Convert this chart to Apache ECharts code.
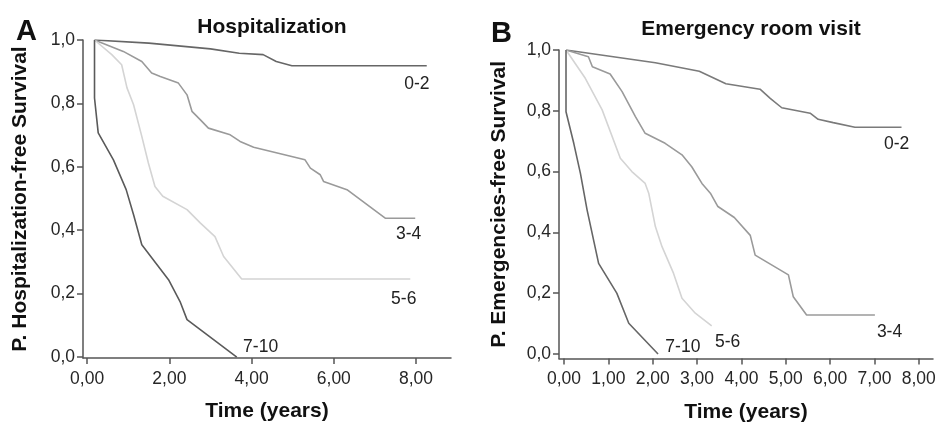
<!DOCTYPE html>
<html>
<head>
<meta charset="utf-8">
<script src="https://cdn.jsdelivr.net/npm/echarts@6/dist/echarts.min.js"></script>
<style>
  html, body { margin: 0; padding: 0; background: #fff; }
  #chart { width: 938px; height: 423px; }
</style>
</head>
<body>
<div id="chart"></div>
<script>
// tick labels
const yTicks = [0, 0.2, 0.4, 0.6, 0.8, 1.0]
const xTicksA = [0, 2, 4, 6, 8]
const xTicksB = [0, 1, 2, 3, 4, 5, 6, 7, 8]
const groups = ['0-2', '3-4', '5-6', '7-10']

// A - hospitalization, [time, survival]
const hosp02 = [[0.18, 1.0], [1.5, 0.99], [3.0, 0.972], [3.7, 0.958], [4.28, 0.954], [4.6, 0.932], [4.98, 0.919], [8.26, 0.919]]
const hosp34 = [[0.18, 1.0], [0.88, 0.964], [1.33, 0.932], [1.57, 0.896], [1.78, 0.885], [2.22, 0.864], [2.43, 0.827], [2.55, 0.775],
  [2.75, 0.749], [2.95, 0.722], [3.48, 0.701], [3.72, 0.68], [4.05, 0.662], [5.3, 0.622], [5.43, 0.596], [5.67, 0.575],
  [5.75, 0.554], [6.32, 0.528], [7.25, 0.438], [7.98, 0.438]]
const hosp56 = [[0.18, 1.0], [0.6, 0.954], [0.84, 0.922], [0.97, 0.849], [1.13, 0.796], [1.33, 0.696], [1.49, 0.612], [1.65, 0.538],
  [1.84, 0.507], [2.43, 0.465], [2.75, 0.423], [3.11, 0.38], [3.32, 0.317], [3.76, 0.246], [7.86, 0.246]]
const hosp710 = [[0.18, 1.0], [0.18, 0.817], [0.27, 0.707], [0.64, 0.622], [0.95, 0.528], [1.13, 0.449], [1.33, 0.354],
  [1.98, 0.244], [2.26, 0.175], [2.43, 0.118], [3.64, 0.0]]

// B - emergency room visit
const er02 = [[0.045, 1.0], [2.06, 0.958], [3.05, 0.93], [3.65, 0.889], [4.42, 0.871], [4.65, 0.841], [4.91, 0.81], [5.55, 0.792],
  [5.73, 0.772], [6.07, 0.761], [6.56, 0.746], [7.61, 0.746]]
const er34 = [[0.045, 1.0], [0.55, 0.978], [0.64, 0.945], [1.04, 0.921], [1.31, 0.863], [1.61, 0.781], [1.83, 0.726], [2.28, 0.693],
  [2.66, 0.655], [2.88, 0.616], [3.11, 0.561], [3.3, 0.529], [3.47, 0.485], [3.84, 0.449], [4.2, 0.39], [4.31, 0.325],
  [5.06, 0.26], [5.17, 0.188], [5.47, 0.128], [7.01, 0.128]]
const er56 = [[0.045, 1.0], [0.48, 0.907], [0.86, 0.803], [1.27, 0.644], [1.53, 0.6], [1.83, 0.561], [1.91, 0.529], [2.06, 0.419],
  [2.21, 0.353], [2.47, 0.265], [2.66, 0.183], [2.96, 0.134], [3.33, 0.092]]
const er710 = [[0.045, 1.0], [0.045, 0.797], [0.22, 0.693], [0.37, 0.594], [0.52, 0.474], [0.78, 0.298], [1.19, 0.2],
  [1.46, 0.101], [2.12, 0.0]]

const font = "'Liberation Sans', Arial, sans-serif"
const comma = (v, d) => v.toFixed(d).replace('.', ',')

function xAxisOf (idx, min, max, ticks) {
  return {
    type: 'value', gridIndex: idx, min: min, max: max,
    name: 'Time (years)', nameLocation: 'middle', nameGap: 43,
    nameTextStyle: { fontFamily: font, fontSize: 21, fontWeight: 'bold', color: '#111' },
    axisLine: { show: true, onZero: false, lineStyle: { color: '#555', width: 1.5 } },
    axisTick: { show: true, length: 6, customValues: ticks, lineStyle: { color: '#555', width: 1.5 } },
    axisLabel: { customValues: ticks, margin: 12, fontFamily: font, fontSize: 17.5, color: '#262626', formatter: v => comma(v, 2) },
    splitLine: { show: false }
  }
}

function yAxisOf (idx, min, name, gap) {
  return {
    type: 'value', gridIndex: idx, min: min, max: 1,
    name: name, nameLocation: 'middle', nameGap: gap,
    nameTextStyle: { fontFamily: font, fontSize: 21, fontWeight: 'bold', color: '#111' },
    axisLine: { show: true, onZero: false, lineStyle: { color: '#555', width: 1.5 } },
    axisTick: { show: true, length: 6, customValues: yTicks, lineStyle: { color: '#555', width: 1.5 } },
    axisLabel: { customValues: yTicks, margin: 8, fontFamily: font, fontSize: 17.5, color: '#262626', formatter: v => comma(v, 1) },
    splitLine: { show: false }
  }
}

function curve (idx, data, color, name, at) {
  return {
    type: 'line', name: name, xAxisIndex: idx, yAxisIndex: idx, data: data,
    showSymbol: false, silent: true,
    lineStyle: { color: color, width: 1.6 },
    markPoint: {
      symbol: 'circle', symbolSize: 0, silent: true,
      label: { show: true, position: 'inside', formatter: '{b}', fontFamily: font, fontSize: 17.5, color: '#222' },
      data: [{ name: name, coord: at }]
    }
  }
}

const chart = echarts.init(document.getElementById('chart'))
chart.setOption({
  animation: false,
  backgroundColor: '#fff',
  title: [
    { text: 'A', left: 11, top: 12, textStyle: { fontFamily: font, fontSize: 29, fontWeight: 'bold', color: '#111' } },
    { text: 'Hospitalization', left: 267, top: 12, textAlign: 'center', textStyle: { fontFamily: font, fontSize: 21, fontWeight: 'bold', color: '#111' } },
    { text: 'B', left: 486, top: 14, textStyle: { fontFamily: font, fontSize: 29, fontWeight: 'bold', color: '#111' } },
    { text: 'Emergency room visit', left: 746, top: 14, textAlign: 'center', textStyle: { fontFamily: font, fontSize: 21, fontWeight: 'bold', color: '#111' } }
  ],
  grid: [
    { left: 83, top: 40, width: 368, height: 318, containLabel: false, outerBoundsMode: 'none' },
    { left: 559, top: 50, width: 374, height: 308.5, containLabel: false, outerBoundsMode: 'none' }
  ],
  xAxis: [
    xAxisOf(0, -0.1, 8.85, xTicksA),
    xAxisOf(1, -0.113, 8.32, xTicksB)
  ],
  yAxis: [
    yAxisOf(0, -0.003, 'P. Hospitalization-free Survival', 52),
    yAxisOf(1, -0.015, 'P. Emergencies-free Survival', 49)
  ],
  series: [
    curve(0, hosp02, '#666', groups[0], [8.02, 0.86]),
    curve(0, hosp34, '#9a9a9a', groups[1], [7.82, 0.386]),
    curve(0, hosp56, '#d4d4d4', groups[2], [7.7, 0.181]),
    curve(0, hosp710, '#5a5a5a', groups[3], [4.22, 0.032]),
    curve(1, er02, '#7a7a7a', groups[0], [7.5, 0.691]),
    curve(1, er34, '#9a9a9a', groups[1], [7.34, 0.072]),
    curve(1, er56, '#d4d4d4', groups[2], [3.69, 0.039]),
    curve(1, er710, '#666', groups[3], [2.68, 0.023])
  ]
})
</script>
</body>
</html>
